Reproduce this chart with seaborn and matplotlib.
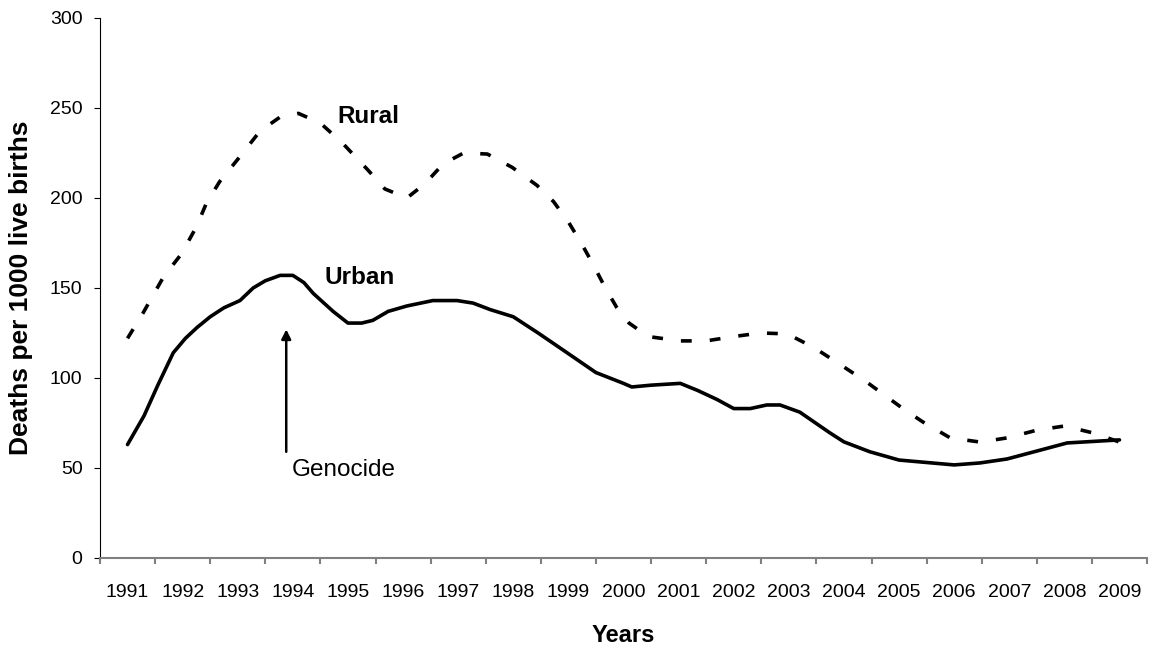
import numpy as np
import pandas as pd
import matplotlib
matplotlib.use("Agg")
import matplotlib.pyplot as plt
import seaborn as sns

# under-five mortality (fractional years)
urban_years = [1991.0, 1991.3, 1991.55, 1991.83, 1992.05, 1992.26, 1992.5, 1992.75,
               1993.04, 1993.28, 1993.5, 1993.77, 1994.0, 1994.2, 1994.37, 1994.73,
               1995.0, 1995.25, 1995.45, 1995.73, 1996.07, 1996.54, 1996.98, 1997.27,
               1997.58, 1998.0, 1998.45, 1998.9, 1999.5, 2000.0, 2000.15, 2000.5,
               2001.03, 2001.35, 2001.7, 2002.0, 2002.3, 2002.6, 2002.84, 2003.2,
               2003.75, 2004.0, 2004.47, 2005.0, 2006.0, 2006.47, 2006.96, 2007.5,
               2008.05, 2009.0]
urban_rate = [63, 79, 96, 114, 122, 128, 134, 139,
              143, 150, 154, 157, 157, 153, 147, 137,
              130.5, 130.5, 132, 137, 140, 143, 143, 141.6,
              138, 134, 125, 115.6, 103, 97, 95, 96,
              97, 93, 88, 83, 83, 85, 85, 81,
              69.4, 64.5, 59, 54.4, 51.7, 52.8, 55, 59.4,
              63.9, 65.6]

rural_years = [1991.0, 1991.28, 1991.65, 1991.98, 1992.25, 1992.43, 1992.67, 1993.04,
               1993.4, 1993.77, 1994.1, 1994.5, 1994.9, 1995.36, 1995.67, 1996.07,
               1996.4, 1996.73, 1997.1, 1997.53, 1997.98, 1998.43, 1998.73, 1999.0,
               1999.25, 1999.45, 1999.67, 1999.88, 2000.1, 2000.45, 2001.03, 2001.5,
               2002.0, 2002.48, 2002.97, 2003.45, 2003.93, 2004.4, 2005.07, 2005.43,
               2005.93, 2006.47, 2006.96, 2007.5, 2008.0, 2008.53, 2009.0]
rural_rate = [122, 136, 156, 169, 184, 197, 209, 223,
              237, 245, 247, 241.6, 230.5, 215.6, 205, 200,
              208, 219, 225, 224.4, 217, 207, 198, 186.7,
              174, 163, 150, 139, 130.5, 123, 120.6, 120.6,
              123, 125, 124.5, 117, 107.5, 98, 83, 75.6,
              66.7, 64.4, 66.7, 71, 73.3, 69.4, 64.4]

year_labels = list(range(1991, 2010))
y_ticks = [0, 50, 100, 150, 200, 250, 300]

df = pd.concat([
    pd.DataFrame({"year": urban_years, "rate": urban_rate, "area": "Urban"}),
    pd.DataFrame({"year": rural_years, "rate": rural_rate, "area": "Rural"}),
], ignore_index=True)

sns.set_style("ticks")
plt.rcParams['font.family'] = ['Liberation Sans', 'DejaVu Sans']
plt.rcParams['text.color'] = 'black'
plt.rcParams['axes.labelcolor'] = 'black'
plt.rcParams['xtick.color'] = 'black'
plt.rcParams['ytick.color'] = 'black'

fig = plt.figure(figsize=(11.57, 6.51), dpi=100)
ax = fig.add_axes([0.0864, 0.1429, 0.905, 0.8295])

sns.lineplot(data=df, x="year", y="rate", style="area", color="black",
             dashes={"Urban": "", "Rural": (3.0, 5.0)}, linewidth=2.6,
             legend=False, ax=ax, sort=False)

ax.set_xlim(1990.5, 2009.5)
ax.set_ylim(0, 300)
ax.set_yticks(y_ticks)
ax.set_xticks(np.arange(1990.5, 2010.5, 1))
ax.set_xticklabels([])
ax.set_xticks(year_labels, minor=True)
ax.set_xticklabels([str(y) for y in year_labels], minor=True, fontsize=14)
ax.tick_params(axis="x", which="minor", length=0, pad=19, labelcolor="black")
ax.tick_params(axis="x", which="major", length=4, width=1.5, color="#808080")
ax.tick_params(axis="y", length=4.5, width=0.8, color="black", labelsize=14,
               pad=8, labelcolor="black")

sns.despine(ax=ax)
ax.spines["left"].set_color("black")
ax.spines["left"].set_linewidth(0.8)
ax.spines["bottom"].set_color("#808080")
ax.spines["bottom"].set_linewidth(1.5)

ax.set_xlabel("Years", fontsize=17, fontweight="bold", labelpad=16)
ax.set_ylabel("Deaths per 1000 live births", fontsize=19, fontweight="bold", labelpad=12)

ax.text(1994.80, 245.5, "Rural", fontsize=17.5, fontweight="bold", va="center", ha="left")
ax.text(1994.58, 156, "Urban", fontsize=17.5, fontweight="bold", va="center", ha="left")
ax.text(1993.98, 49, "Genocide", fontsize=17.5, va="center", ha="left")
ax.annotate("", xy=(1993.88, 127), xytext=(1993.88, 59),
            arrowprops=dict(arrowstyle="-|>", color="black", lw=1.8,
                            mutation_scale=14, shrinkA=0, shrinkB=0))

fig.savefig("out.png", dpi=100)
